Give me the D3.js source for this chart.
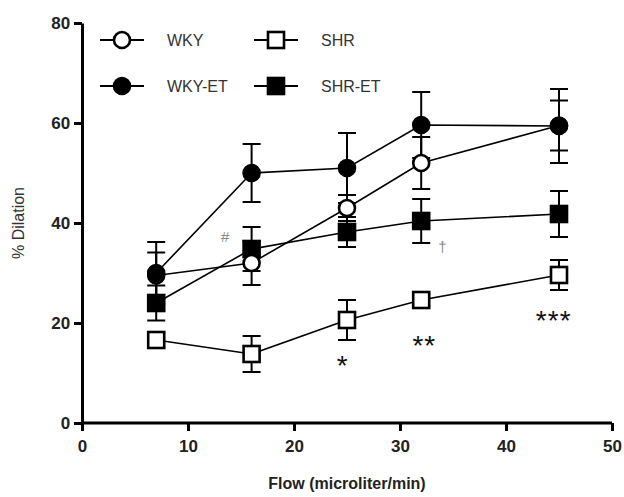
<!DOCTYPE html>
<html><head><meta charset="utf-8">
<script src="https://cdn.jsdelivr.net/npm/d3@7"></script>
<style>body{margin:0;background:#fff}svg{display:block}</style>
</head><body><svg id="c" width="624" height="497"></svg>
<script>
const flow = [7, 16, 25, 32, 45];
const wky = [29.5, 32, 43, 52, 59.5];
const wkyErr = [4.6, 4.4, 2.6, 5.2, 5];
const wkyEt = [30, 50, 51, 59.6, 59.4];
const wkyEtErr = [6.2, 5.8, 7, 6.6, 7.4];
const shr = [16.6, 13.8, 20.6, 24.6, 29.6];
const shrErr = [1.5, 3.6, 4, 1.2, 3];
const shrEt = [24, 34.8, 38.2, 40.4, 41.8];
const shrEtErr = [3.5, 4.4, 3, 4.4, 4.6];
const xTicks = [0, 10, 20, 30, 40, 50];
const yTicks = [0, 20, 40, 60, 80];
const annotations = [
  {text: "#", x: 13.5, y: 37, color: "#888"},
  {text: "*", x: 24.6, y: 11, color: "#111"},
  {text: "**", x: 32.3, y: 15, color: "#111"},
  {text: "†", x: 34, y: 35, color: "#888"},
  {text: "***", x: 44.5, y: 20, color: "#111"}
];

const svg = d3.select("#c");
const x = d3.scaleLinear().domain([0, 50]).range([82, 612]);
const y = d3.scaleLinear().domain([0, 80]).range([423, 23]);
const font = "'Liberation Sans', Arial, sans-serif";

const series = [
  {name: "SHR", v: shr, e: shrErr, shape: "square", fill: "#fff"},
  {name: "SHR-ET", v: shrEt, e: shrEtErr, shape: "square", fill: "#000"},
  {name: "WKY", v: wky, e: wkyErr, shape: "circle", fill: "#fff"},
  {name: "WKY-ET", v: wkyEt, e: wkyEtErr, shape: "circle", fill: "#000"}
];

function marker(g, shape, fill, cx, cy) {
  if (shape === "circle") {
    g.append("circle").attr("cx", cx).attr("cy", cy).attr("r", 8)
      .attr("fill", fill).attr("stroke", "#000").attr("stroke-width", 2.6);
  } else {
    g.append("rect").attr("x", cx - 8).attr("y", cy - 8).attr("width", 16).attr("height", 16)
      .attr("fill", fill).attr("stroke", "#000").attr("stroke-width", 2.6);
  }
}

series.forEach(s => {
  const g = svg.append("g").attr("stroke", "#000").attr("stroke-width", 2);
  flow.forEach((f, i) => {
    const cx = x(f), hi = y(s.v[i] + s.e[i]), lo = y(s.v[i] - s.e[i]);
    g.append("line").attr("x1", cx).attr("x2", cx).attr("y1", hi).attr("y2", lo);
    g.append("line").attr("x1", cx - 9).attr("x2", cx + 9).attr("y1", hi).attr("y2", hi);
    g.append("line").attr("x1", cx - 9).attr("x2", cx + 9).attr("y1", lo).attr("y2", lo);
  });
});
series.forEach(s => {
  svg.append("path").datum(flow.map((f, i) => [f, s.v[i]]))
    .attr("d", d3.line().x(d => x(d[0])).y(d => y(d[1])))
    .attr("fill", "none").attr("stroke", "#000").attr("stroke-width", 1.6);
});
series.forEach(s => {
  const g = svg.append("g");
  flow.forEach((f, i) => marker(g, s.shape, s.fill, x(f), y(s.v[i])));
});

const xAxis = svg.append("g").attr("transform", "translate(0,423)")
  .call(d3.axisBottom(x).tickValues(xTicks).tickSize(8).tickSizeOuter(0));
const yAxis = svg.append("g").attr("transform", "translate(82,0)")
  .call(d3.axisLeft(y).tickValues(yTicks).tickSize(8).tickSizeOuter(0));
[xAxis, yAxis].forEach(a => {
  a.select(".domain").attr("stroke", "#000").attr("stroke-width", 3);
  a.selectAll(".tick line").attr("stroke", "#000").attr("stroke-width", 3);
  a.selectAll(".tick text").attr("font-family", font).attr("font-size", 17)
    .attr("font-weight", "bold").attr("fill", "#222");
});
xAxis.selectAll(".tick text").attr("dy", "1.05em");
yAxis.selectAll(".tick text").attr("dx", "-0.05em");
xAxis.select(".domain").attr("d", `M${x(0)},0H${x(50)}`);

svg.append("text").attr("x", x(25)).attr("y", 489).attr("text-anchor", "middle")
  .attr("font-family", font).attr("font-size", 16).attr("font-weight", "bold").attr("fill", "#222")
  .text("Flow (microliter/min)");
svg.append("text").attr("transform", `translate(24,${y(40)}) rotate(-90)`).attr("text-anchor", "middle")
  .attr("font-family", font).attr("font-size", 16).attr("fill", "#333")
  .text("% Dilation");

annotations.forEach(a => {
  const star = a.text.startsWith("*");
  svg.append("text").attr("x", x(a.x)).attr("y", y(a.y)).attr("text-anchor", "middle")
    .attr("font-family", font).attr("font-size", star ? 28 : 15)
    .attr("letter-spacing", star ? 1 : 0)
    .attr("fill", a.color).attr("dominant-baseline", "middle").text(a.text);
});

const legend = [
  {name: "WKY", shape: "circle", fill: "#fff", lx: 122, ly: 40},
  {name: "SHR", shape: "square", fill: "#fff", lx: 276, ly: 40},
  {name: "WKY-ET", shape: "circle", fill: "#000", lx: 122, ly: 86},
  {name: "SHR-ET", shape: "square", fill: "#000", lx: 276, ly: 86}
];
legend.forEach(l => {
  const g = svg.append("g");
  g.append("line").attr("x1", l.lx - 22).attr("x2", l.lx + 22).attr("y1", l.ly).attr("y2", l.ly)
    .attr("stroke", "#000").attr("stroke-width", 2);
  marker(g, l.shape, l.fill, l.lx, l.ly);
  g.append("text").attr("x", l.lx + 45).attr("y", l.ly).attr("dominant-baseline", "central")
    .attr("font-family", font).attr("font-size", 16).attr("fill", "#333").text(l.name);
});
</script></body></html>
